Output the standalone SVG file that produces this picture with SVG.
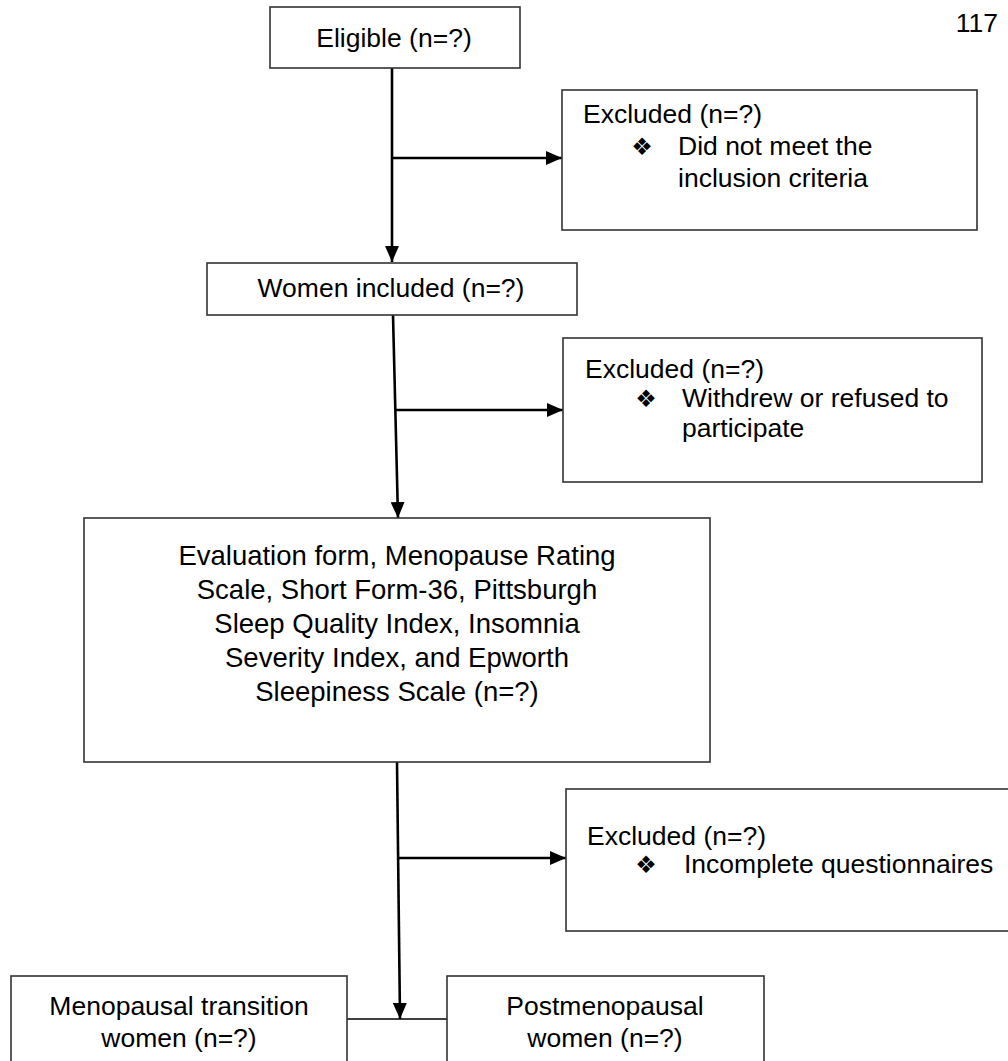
<svg xmlns="http://www.w3.org/2000/svg" width="1008" height="1061" viewBox="0 0 1008 1061">
<style>
.box{fill:#fff;stroke:#333;stroke-width:1.6}
.t{font-family:"Liberation Sans",Arial,sans-serif;font-size:26.5px;fill:#000}
.c{text-anchor:middle}
.ev{font-family:"Liberation Sans",Arial,sans-serif;font-size:27.5px;fill:#000;text-anchor:middle}
.bul{font-family:"DejaVu Sans",sans-serif;font-size:24px;fill:#000;text-anchor:middle}
.ln{stroke:#000;stroke-width:2.6;fill:none}
.thin{stroke:#000;stroke-width:1.6;fill:none}
</style>
<defs>
<marker id="ah" viewBox="0 0 16 14" refX="16" refY="7" markerWidth="16" markerHeight="14" markerUnits="userSpaceOnUse" orient="auto">
<path d="M0,0 L16,7 L0,14 z" fill="#000"/>
</marker>
</defs>
<rect width="1008" height="1061" fill="#fff"/>
<text class="t" x="998" y="32" text-anchor="end" font-size="24">117</text>

<g id="connectors">
<line class="ln" x1="392" y1="68" x2="392" y2="262" marker-end="url(#ah)"/>
<line class="ln" x1="392" y1="158" x2="562" y2="158" marker-end="url(#ah)"/>
<line class="ln" x1="393" y1="315" x2="398" y2="518" marker-end="url(#ah)"/>
<line class="ln" x1="396" y1="410" x2="563" y2="410" marker-end="url(#ah)"/>
<line class="ln" x1="397" y1="762" x2="400" y2="1019" marker-end="url(#ah)"/>
<line class="ln" x1="399" y1="858" x2="566" y2="858" marker-end="url(#ah)"/>
<line class="thin" x1="347" y1="1019" x2="447" y2="1019"/>
</g>

<g id="eligible">
<rect class="box" x="270" y="7" width="250" height="61"/>
<text class="t c" x="394" y="47">Eligible (n=?)</text>
</g>

<g id="excluded1">
<rect class="box" x="562" y="90" width="415" height="140"/>
<text class="t" x="583" y="123">Excluded (n=?)</text>
<text class="bul" x="642" y="155">❖</text>
<text class="t" x="678" y="155">Did not meet the</text>
<text class="t" x="678" y="187">inclusion criteria</text>
</g>

<g id="women-included">
<rect class="box" x="207" y="263" width="370" height="52"/>
<text class="t c" x="391" y="297">Women included (n=?)</text>
</g>

<g id="excluded2">
<rect class="box" x="563" y="338" width="419" height="144"/>
<text class="t" x="585" y="378">Excluded (n=?)</text>
<text class="bul" x="646" y="407">❖</text>
<text class="t" x="682" y="407">Withdrew or refused to</text>
<text class="t" x="682" y="437">participate</text>
</g>

<g id="evaluation">
<rect class="box" x="84" y="518" width="626" height="244"/>
<text class="ev" x="397" y="565">Evaluation form, Menopause Rating</text>
<text class="ev" x="397" y="599">Scale, Short Form-36, Pittsburgh</text>
<text class="ev" x="397" y="633">Sleep Quality Index, Insomnia</text>
<text class="ev" x="397" y="667">Severity Index, and Epworth</text>
<text class="ev" x="397" y="701">Sleepiness Scale (n=?)</text>
</g>

<g id="excluded3">
<rect class="box" x="566" y="789" width="460" height="142"/>
<text class="t" x="587" y="845">Excluded (n=?)</text>
<text class="bul" x="646" y="873">❖</text>
<text class="t" x="684" y="873">Incomplete questionnaires</text>
</g>

<g id="menopausal-transition">
<rect class="box" x="11" y="976" width="336" height="100"/>
<text class="t c" x="179" y="1015">Menopausal transition</text>
<text class="t c" x="179" y="1047">women (n=?)</text>
</g>

<g id="postmenopausal">
<rect class="box" x="447" y="976" width="317" height="100"/>
<text class="t c" x="605" y="1015">Postmenopausal</text>
<text class="t c" x="605" y="1047">women (n=?)</text>
</g>
</svg>
